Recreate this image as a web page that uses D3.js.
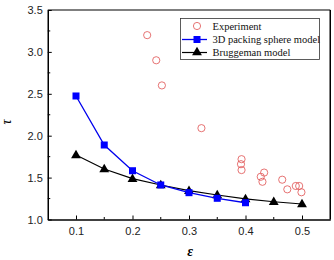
<!DOCTYPE html>
<html><head><meta charset="utf-8">
<script src="https://cdn.jsdelivr.net/npm/d3@7"></script>
<style>body{margin:0;background:#fff}svg{display:block}</style>
</head><body>
<svg id="c" width="334" height="260"></svg>
<script>
const expX = [0.226,0.242,0.252,0.322,0.393,0.392,0.393,0.433,0.427,0.430,0.465,0.474,0.489,0.495,0.499];
const expY = [3.20,2.90,2.60,2.09,1.72,1.66,1.59,1.56,1.51,1.45,1.475,1.36,1.40,1.40,1.325];
const packX = [0.10,0.15,0.20,0.25,0.30,0.35,0.40];
const packY = [2.474,1.889,1.582,1.412,1.32,1.253,1.20];
const brugX = [0.10,0.15,0.20,0.25,0.30,0.35,0.40,0.45,0.50];
const brugY = [1.77,1.603,1.487,1.412,1.344,1.292,1.245,1.212,1.185];
const xTicks = [0.1,0.2,0.3,0.4,0.5];
const xMinor = [0.15,0.25,0.35,0.45];
const yTicks = [1.0,1.5,2.0,2.5,3.0,3.5];
const yMinor = [1.25,1.75,2.25,2.75,3.25];
const legendLabels = ["Experiment","3D packing sphere model","Bruggeman model"];

const svg = d3.select("#c");
const L=47.75, R=330.25, T=10, B=219.5;
const x = d3.scaleLinear().domain([0.05,0.55]).range([L,R]);
const y = d3.scaleLinear().domain([1.0,3.5]).range([B,T]);

// frame
svg.append("line").attr("x1",L).attr("x2",R).attr("y1",T).attr("y2",T).attr("stroke","#555").attr("stroke-width",1.5);
svg.append("line").attr("x1",R).attr("x2",R).attr("y1",T).attr("y2",B).attr("stroke","#000").attr("stroke-width",1.5);

const xAx = svg.append("g").attr("transform",`translate(0,${B})`)
  .call(d3.axisBottom(x).tickValues(xTicks).tickFormat(d3.format(".1f")).tickSizeInner(-4).tickSizeOuter(0).tickPadding(8));
const yAx = svg.append("g").attr("transform",`translate(${L},0)`)
  .call(d3.axisLeft(y).tickValues(yTicks).tickFormat(d3.format(".1f")).tickSizeInner(-4).tickSizeOuter(0).tickPadding(5));
[xAx,yAx].forEach(g=>{
  g.select(".domain").attr("stroke","#000").attr("stroke-width",1.5);
  g.selectAll(".tick line").attr("stroke","#000").attr("stroke-width",1);
  g.selectAll("text").attr("font-family","'Liberation Sans',Arial,sans-serif").attr("font-size",11).attr("fill","#222");
});
svg.append("g").selectAll("line").data(xMinor).join("line")
  .attr("x1",d=>x(d)).attr("x2",d=>x(d)).attr("y1",B).attr("y2",B-2.5).attr("stroke","#000");
svg.append("g").selectAll("line").data(yMinor).join("line")
  .attr("x1",L).attr("x2",L+2.5).attr("y1",d=>y(d)).attr("y2",d=>y(d)).attr("stroke","#000");

// axis titles
svg.append("text").attr("x",190).attr("y",256).attr("text-anchor","middle")
  .attr("font-family","'Liberation Serif',serif").attr("font-style","italic").attr("font-weight","bold").attr("font-size",14).text("ε");
svg.append("text").attr("transform","translate(11,122) rotate(-90)").attr("text-anchor","middle")
  .attr("font-family","'Liberation Serif',serif").attr("font-style","italic").attr("font-size",14).text("τ");

const line = d3.line().x(d=>x(d[0])).y(d=>y(d[1]));
const brug = brugX.map((v,i)=>[v,brugY[i]]);
const pack = packX.map((v,i)=>[v,packY[i]]);
const tri = d3.symbol().type(d3.symbolTriangle).size(42);

svg.append("path").datum(brug).attr("d",line).attr("fill","none").attr("stroke","#000").attr("stroke-width",1.2);
svg.append("g").selectAll("path").data(brug).join("path").attr("d",tri)
  .attr("transform",d=>`translate(${x(d[0])},${y(d[1])+0.5})`).attr("fill","#000");
svg.append("path").datum(pack).attr("d",line).attr("fill","none").attr("stroke","#0000ee").attr("stroke-width",1.3);
svg.append("g").selectAll("rect").data(pack).join("rect")
  .attr("x",d=>x(d[0])-3.5).attr("y",d=>y(d[1])-3.5).attr("width",7).attr("height",7).attr("fill","#0000ff");

svg.append("g").selectAll("circle").data(expX.map((v,i)=>[v,expY[i]])).join("circle")
  .attr("cx",d=>x(d[0])).attr("cy",d=>y(d[1])).attr("r",3.6)
  .attr("fill","none").attr("stroke","#e05050").attr("stroke-width",0.8);

// legend
const lg = svg.append("g");
lg.append("rect").attr("x",180.5).attr("y",18.5).attr("width",139).attr("height",41)
  .attr("fill","#fff").attr("stroke","#333").attr("stroke-width",0.8);
const ly = [26,39.5,52.5];
lg.append("circle").attr("cx",197).attr("cy",ly[0]).attr("r",3.6).attr("fill","none").attr("stroke","#e05050").attr("stroke-width",0.8);
lg.append("line").attr("x1",182).attr("x2",207).attr("y1",ly[1]).attr("y2",ly[1]).attr("stroke","#0000ee").attr("stroke-width",1.3);
lg.append("rect").attr("x",193.5).attr("y",ly[1]-3.5).attr("width",7).attr("height",7).attr("fill","#0000ff");
lg.append("line").attr("x1",182).attr("x2",207).attr("y1",ly[2]).attr("y2",ly[2]).attr("stroke","#000").attr("stroke-width",1.2);
lg.append("path").attr("d",tri).attr("transform",`translate(197,${ly[2]})`).attr("fill","#000");
lg.selectAll("text").data(legendLabels).join("text")
  .attr("x",212.5).attr("y",(d,i)=>ly[i]+3.5)
  .attr("font-family","'Liberation Serif',serif").attr("font-size",10.5).attr("fill","#111").text(d=>d);
</script>
</body></html>
